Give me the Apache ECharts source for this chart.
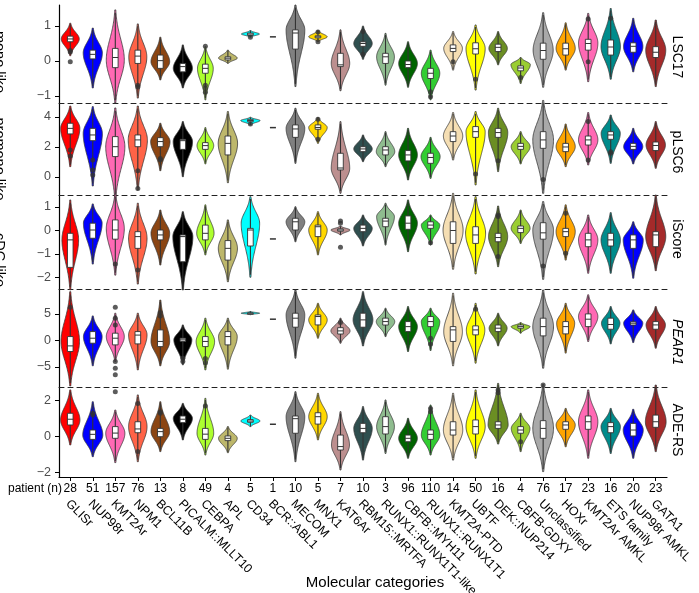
<!DOCTYPE html>
<html><head><meta charset="utf-8">
<script src="https://cdn.jsdelivr.net/npm/echarts@6/dist/echarts.min.js"></script>
<style>html,body{margin:0;padding:0;background:#fff}#c{width:699px;height:593px}</style>
</head><body><div id="c"></div>
<script>
const categories = ['GLISr','NUP98r','KMT2Ar','NPM1','BCL11B','PICALM::MLLT10','CEBPA','APL','CD34','BCR::ABL1','MECOM','MNX1','KAT6Ar','RBM15::MRTFA','RUNX1::RUNX1T1-like','CBFB::MYH11','RUNX1::RUNX1T1','KMT2A-PTD','UBTF','DEK::NUP214','CBFB-GDXY','Unclassified','HOXr','KMT2Ar AMKL','ETS family','NUP98r AMKL','GATA1'];
const patientCounts = [28,51,157,76,13,8,49,4,5,1,10,5,7,10,3,96,110,14,50,16,4,76,17,23,16,20,23];
const colors = ['#FF0000','#0000FF','#FF69B4','#FF6347','#8B4513','#000000','#ADFF2F','#BDB76B','#00FFFF','#333333','#808080','#FFD700','#BC8F8F','#2F4F4F','#8FBC8F','#006400','#32CD32','#F5DEB3','#FFFF00','#6B8E23','#9ACD32','#A9A9A9','#FFA500','#FF69B4','#008B8B','#0000FF','#A52A2A'];
const rowNames = ['LSC17','pLSC6','iScore','PEAR1','ADE-RS'];
const sideLabels = ['mono like','promono like','cDC like'];
const xTitle = 'Molecular categories';

// violin stats per category: [low, q1, median, q3, high, density peak, relative width]; single patient = one value
const lsc17 = [[0.15,0.55,0.63,0.71,1.08,0.63,0.8],[-0.77,0.06,0.19,0.31,0.94,0.23,0.85],[-1.2,-0.19,0.1,0.36,1.46,0.03,0.8],[-1.06,-0.07,0.14,0.31,1.06,0.12,0.8],[-0.54,-0.21,0.01,0.17,0.68,-0.02,0.83],[-0.77,-0.31,-0.16,-0.07,0.46,-0.21,0.85],[-1.11,-0.35,-0.21,-0.09,0.41,-0.21,0.7],[-0.07,0.03,0.08,0.12,0.31,0.08,0.83],[0.68,0.73,0.77,0.8,0.87,0.77,0.8],0.69,[-0.73,0.34,0.8,0.89,1.6,0.89,0.83],[0.55,0.66,0.69,0.72,0.87,0.69,0.82],[-0.85,-0.16,-0.11,0.22,0.89,-0.07,0.82],[0.05,0.42,0.5,0.55,1.0,0.5,0.82],[-0.69,-0.07,0.12,0.22,0.79,0.12,0.79],[-0.75,-0.19,-0.1,0.0,0.55,-0.07,0.83],[-1.11,-0.5,-0.35,-0.21,0.31,-0.35,0.82],[-0.26,0.27,0.36,0.46,0.84,0.36,0.83],[-0.83,0.2,0.35,0.52,1.03,0.36,0.85],[-0.11,0.27,0.39,0.48,0.84,0.36,0.82],[-0.64,-0.28,-0.2,-0.14,0.1,-0.1,0.86],[-0.75,0.05,0.3,0.51,1.38,0.31,0.89],[-0.26,0.17,0.35,0.51,1.09,0.36,0.85],[-0.59,0.31,0.5,0.62,1.36,0.51,0.86],[-0.52,0.17,0.4,0.6,1.5,0.41,0.86],[-0.31,0.25,0.42,0.52,1.22,0.41,0.86],[-0.73,0.1,0.25,0.41,1.17,0.31,0.89]];
const plsc6 = [[0.69,2.87,3.24,3.58,4.73,3.24,0.85],[-0.6,2.42,2.8,3.24,4.69,2.91,0.85],[-1.5,1.36,2.02,2.69,4.6,2.02,0.85],[-0.87,2.02,2.47,2.8,4.73,2.47,0.85],[0.42,2.02,2.36,2.62,3.58,2.36,0.86],[0.02,1.84,2.42,2.51,3.69,2.36,0.86],[0.87,1.84,2.09,2.29,3.29,2.09,0.74],[-0.38,1.47,2.24,2.73,4.36,2.24,0.86],[3.47,3.68,3.76,3.84,3.98,3.76,0.86],3.29,[0.91,2.64,3.2,3.47,4.58,3.24,0.83],[2.24,3.18,3.3,3.47,3.96,3.3,0.82],[-1.09,0.47,0.6,1.58,3.69,0.58,0.82],[1.02,1.69,1.87,2.02,2.8,1.87,0.82],[0.69,1.47,1.8,2.02,3.02,1.69,0.82],[-0.2,1.07,1.47,1.76,3.24,1.47,0.83],[-0.09,0.91,1.3,1.58,2.64,1.36,0.85],[1.13,2.36,2.73,3.02,4.29,2.73,0.86],[-0.53,2.64,3.02,3.36,4.36,3.02,0.85],[0.36,2.64,2.96,3.24,4.58,2.96,0.86],[0.87,1.84,2.04,2.24,3.02,2.02,0.84],[-1.09,1.91,2.47,3.02,5.1,2.47,0.92],[0.69,1.69,2.0,2.24,3.53,2.02,0.85],[0.8,2.13,2.47,2.73,4.29,2.47,0.86],[0.91,2.51,2.8,3.02,4.13,2.91,0.85],[0.87,1.84,2.04,2.24,3.24,2.02,0.85],[0.58,1.76,2.1,2.33,3.69,2.13,0.86]];
const iscore = [[-2.53,-1.57,-0.4,-0.12,1.3,-0.4,0.74],[-1.43,-0.33,0.02,0.31,1.13,0.31,0.83],[-1.9,-0.37,0.02,0.45,1.55,0.09,0.8],[-2.28,-0.76,-0.26,-0.05,1.16,-0.33,0.82],[-1.47,-0.4,-0.19,0.02,0.87,-0.12,0.83],[-2.53,-1.33,-0.26,-0.19,0.8,-0.26,0.89],[-1.04,-0.4,-0.12,0.23,1.09,-0.12,0.77],[-2.18,-1.26,-0.76,-0.43,0.45,-0.76,0.85],[-1.99,-0.66,0.02,0.09,1.44,0.31,0.82],-0.36,[-0.48,0.02,0.37,0.52,1.01,0.37,0.83],[-1.04,-0.26,0.16,0.23,0.8,0.02,0.82],[-0.19,-0.03,0.02,0.07,0.19,0.02,0.85],[-0.66,-0.05,0.09,0.23,0.66,0.09,0.82],[-0.62,0.16,0.4,0.52,1.16,0.59,0.79],[-0.9,0.05,0.31,0.62,1.3,0.31,0.83],[-0.62,0.09,0.23,0.37,0.66,0.23,0.82],[-1.65,-0.55,0.0,0.37,1.58,0.02,0.89],[-1.85,-0.55,-0.19,0.16,1.44,-0.12,0.89],[-1.54,-0.48,-0.3,-0.12,1.04,-0.26,0.85],[-0.55,-0.09,0.09,0.19,0.87,0.09,0.84],[-2.08,-0.37,-0.1,0.33,1.23,0.02,0.92],[-1.26,-0.26,-0.05,0.09,1.09,-0.05,0.85],[-1.82,-0.69,-0.4,-0.12,0.66,-0.4,0.86],[-1.82,-0.66,-0.4,-0.12,0.76,-0.4,0.86],[-2.03,-0.76,-0.4,-0.19,0.37,-0.4,0.89],[-1.71,-0.69,-0.19,-0.05,1.51,-0.26,0.89]];
const pear1 = [[-8.6,-2.1,-1.04,0.72,9.2,-0.2,0.82],[-4.8,-0.53,0.41,1.66,4.62,0.72,0.83],[-4.0,-0.85,0.41,1.36,5.13,0.72,0.8],[-5.57,-0.66,1.0,1.66,5.13,1.04,0.82],[-4.8,-1.17,-0.2,1.98,7.6,-0.2,0.83],[-4.62,-0.2,0.1,0.41,2.92,0.1,0.8],[-5.57,-1.17,-0.2,0.72,4.19,-0.2,0.82],[-5.43,-0.85,0.72,1.66,4.19,0.72,0.83],[4.85,5.05,5.13,5.2,5.45,5.13,0.82],4.0,[-3.36,2.49,4.19,5.13,9.5,4.8,0.83],[0.41,2.92,4.5,4.8,7.0,3.87,0.82],[-0.53,1.2,1.79,2.4,4.19,1.79,0.85],[-1.04,2.49,3.87,5.13,9.2,3.87,0.88],[0.72,2.9,3.55,4.2,6.07,3.55,0.82],[-2.1,1.66,2.6,3.55,6.38,2.6,0.83],[-1.9,2.6,3.55,4.5,6.07,3.55,0.82],[-4.8,-0.2,1.98,2.6,8.9,1.66,0.83],[-4.3,1.04,1.98,2.74,7.0,1.98,0.82],[-1.04,1.66,2.3,2.9,5.13,2.3,0.8],[1.36,2.3,2.6,2.9,3.36,2.6,0.84],[-5.25,0.85,2.6,4.19,9.5,2.6,0.92],[-2.4,1.23,2.6,3.55,7.0,3.24,0.8],[-0.2,2.6,4.0,5.0,8.6,4.5,0.86],[-0.66,2.11,3.0,4.19,6.38,3.24,0.82],[-0.41,2.9,3.24,3.5,5.75,3.24,0.85],[-1.47,2.11,2.92,3.55,6.38,2.92,0.86]];
const aders = [[-0.46,0.65,0.97,1.3,2.6,0.93,0.86],[-1.11,-0.15,0.13,0.37,1.94,0.09,0.89],[-1.44,-0.09,0.2,0.56,1.48,0.19,0.85],[-1.39,0.22,0.43,0.83,2.32,0.56,0.82],[-0.83,0.0,0.28,0.46,1.94,0.28,0.83],[-0.18,0.78,0.97,1.15,1.85,1.02,0.85],[-1.02,-0.15,0.14,0.46,2.13,0.19,0.74],[-0.89,-0.22,-0.09,0.04,0.56,-0.09,0.83],[0.56,0.8,0.87,0.95,1.2,0.87,0.85],0.69,[-1.39,0.19,1.0,1.15,2.5,1.11,0.83],[-0.18,0.7,1.11,1.33,2.41,1.11,0.82],[-1.85,-0.74,-0.55,0.09,1.39,-0.46,0.8],[-1.3,0.22,0.46,0.74,1.67,0.46,0.82],[-0.93,0.15,0.56,1.11,2.04,0.56,0.79],[-1.2,-0.28,-0.09,0.09,1.02,-0.09,0.83],[-1.02,-0.15,0.13,0.37,1.76,0.09,0.82],[-1.3,0.09,0.37,0.83,2.41,0.37,0.86],[-1.2,0.15,0.56,0.93,2.6,0.56,0.85],[-0.41,0.46,0.65,0.83,2.96,0.65,0.89],[-0.83,0.19,0.37,0.56,1.3,0.46,0.83],[-1.94,-0.09,0.46,0.89,2.9,0.46,0.92],[-0.56,0.41,0.65,0.83,1.57,0.65,0.85],[-1.2,0.41,0.83,1.15,2.6,0.83,0.86],[-0.93,0.22,0.56,0.78,1.57,0.56,0.86],[-1.2,0.04,0.37,0.74,1.52,0.37,0.89],[-0.83,0.52,0.83,1.2,2.87,0.83,0.92]];

// outliers: [category index, value]
const lsc17Out = [[0,0.3],[0,0.26],[0,-0.02],[3,-0.69],[3,-0.74],[6,0.42],[6,-0.69],[6,-0.78],[6,-0.89],[8,0.68],[11,0.83],[11,0.55],[13,0.84],[13,0.19],[16,-0.88],[16,-1.02],[17,-0.02],[18,-0.52],[20,-0.47],[23,1.2],[23,-0.02],[24,1.22]];
const plsc6Out = [[0,1.8],[0,1.4],[1,1.13],[1,0.47],[1,0.13],[3,0.42],[3,-0.76],[4,1.24],[4,1.13],[8,3.53],[11,3.84],[11,2.51],[18,0.2],[19,1.09],[21,-0.16],[23,3.69],[23,1.13],[24,1.69],[24,1.58]];
const iscoreOut = [[2,-1.43],[3,-1.68],[12,0.4],[12,0.31],[12,-0.71],[16,-0.52],[19,0.66],[19,0.59],[19,-1.11],[21,-1.51],[22,0.73],[22,-0.97]];
const pear1Out = [[0,6.26],[2,6.26],[2,4.19],[2,2.92],[2,-4.0],[2,-5.25],[2,-6.5],[4,5.25],[4,4.62],[5,-3.36],[5,-4.0],[6,-3.4],[6,-4.2],[12,3.36],[16,0.41],[16,-0.66],[18,5.89]];
const adersOut = [[1,1.3],[1,1.2],[2,2.5],[3,1.85],[3,-0.83],[4,1.39],[4,1.3],[6,1.7],[16,1.57],[16,1.39],[19,2.6],[19,2.44],[20,-0.28],[21,2.87]];

const lsc17Ticks = [-1,0,1];
const plsc6Ticks = [0,2,4];
const iscoreTicks = [-2,-1,0,1];
const pear1Ticks = [-5,0,5];
const adersTicks = [-2,0,2];

const rowStats = [lsc17, plsc6, iscore, pear1, aders];
const rowOutliers = [lsc17Out, plsc6Out, iscoreOut, pear1Out, adersOut];
const rowTicks = [lsc17Ticks, plsc6Ticks, iscoreTicks, pear1Ticks, adersTicks];
const rowRanges = [[-1.2,1.6],[-1.2,4.93],[-2.49,1.51],[-8.8,9.7],[-2.24,2.76]];

const FONT = '"Liberation Sans", Arial, sans-serif';
const gridTops = [5,103,195,289,387];
const gridBots = [103,195,289,387,477];
const GL = 59, GW = 608;

function fmt(v){ return v < 0 ? '\u2212' + Math.abs(v) : String(v); }

function renderViolin(params, api){
  const i = api.value(0);
  const lo = api.value(1), q1 = api.value(2), med = api.value(3), q3 = api.value(4), hi = api.value(5), pk = api.value(6), W = api.value(7);
  const c = api.coord([i, med]);
  const bw = api.size([1, 0])[0];
  const cx = c[0];
  if (!W) {
    return {type:'line', shape:{x1:cx-3, y1:c[1], x2:cx+3, y2:c[1]}, style:{stroke:'#333', lineWidth:1.5}};
  }
  const N = 70, right = [], left = [];
  const sUp = Math.max((hi-pk)/2.4, 1e-6), sDn = Math.max((pk-lo)/2.4, 1e-6);
  for (let k = 0; k <= N; k++) {
    const v = lo + (hi-lo)*k/N;
    const d = v - pk;
    const s = d > 0 ? sUp : sDn;
    const hw = W*bw/2*Math.exp(-0.5*(d/s)*(d/s));
    const y = api.coord([i, v])[1];
    right.push([cx+hw, y]);
    left.unshift([cx-hw, y]);
  }
  const pts = right.concat(left);
  const inset = (hi-lo)*0.03;
  const yWl = api.coord([i, lo+inset])[1], yWh = api.coord([i, hi-inset])[1];
  const yq1 = api.coord([i, q1])[1], yq3 = api.coord([i, q3])[1];
  const bx = bw*0.25;
  return {type:'group', children:[
    {type:'polygon', shape:{points:pts}, style:{fill:colors[i], stroke:'#3a3a3a', lineWidth:0.8}},
    {type:'line', shape:{x1:cx, y1:yWl, x2:cx, y2:yWh}, style:{stroke:'#333', lineWidth:1.1}},
    {type:'rect', shape:{x:cx-bx/2, y:yq3, width:bx, height:Math.max(yq1-yq3,1.5)}, style:{fill:'#fff', stroke:'#333', lineWidth:0.9}},
    {type:'line', shape:{x1:cx-bx/2, y1:c[1], x2:cx+bx/2, y2:c[1]}, style:{stroke:'#333', lineWidth:1}}
  ]};
}

const grids = [], xAxes = [], yAxes = [], series = [];
for (let k = 0; k < 5; k++) {
  grids.push({left:GL, width:GW, top:gridTops[k], height:gridBots[k]-gridTops[k], containLabel:false, outerBoundsMode:'none'});
  xAxes.push(k < 4 ? {type:'category', gridIndex:k, data:categories, show:false, axisLine:{onZero:false}} : {
    type:'category', gridIndex:k, data:categories, position:'bottom',
    axisLine:{show:true, onZero:false, lineStyle:{color:'#000', width:1.2}},
    axisTick:{show:true, alignWithLabel:true, interval:0, length:4, lineStyle:{color:'#000'}},
    axisLabel:{interval:0, margin:6, fontSize:12, color:'#000', fontFamily:FONT, formatter:(v, idx)=>String(patientCounts[idx])}
  });
  yAxes.push({type:'value', gridIndex:k, min:rowRanges[k][0], max:rowRanges[k][1],
    axisLine:{show:true, onZero:false, lineStyle:{color:'#000', width:1.2}},
    axisTick:{show:true, length:4, customValues:rowTicks[k], lineStyle:{color:'#000'}},
    axisLabel:{customValues:rowTicks[k], formatter:fmt, color:'#4d4d4d', fontSize:12.5, fontFamily:FONT, margin:8},
    splitLine:{show:false}});
}
// category names axis
xAxes.push({type:'category', gridIndex:4, data:categories, position:'bottom',
  axisLine:{show:false, onZero:false}, axisTick:{show:false},
  axisLabel:{interval:0, rotate:-45, margin:18, padding:[0,0,0,3], fontSize:12.5, color:'#000', fontFamily:FONT, align:'left', verticalAlign:'top'}});
// dashed separators
for (let k = 1; k < 5; k++) {
  xAxes.push({type:'category', gridIndex:k, data:categories, position:'top',
    axisLine:{show:true, onZero:false, lineStyle:{color:'#222', width:1, type:[5,4]}}, axisTick:{show:false}, axisLabel:{show:false}});
}
for (let k = 0; k < 5; k++) {
  series.push({type:'custom', xAxisIndex:k, yAxisIndex:k, clip:false, z:2,
    data: rowStats[k].map((s, i) => Array.isArray(s) ? [i].concat(s) : [i, s, s, s, s, s, s, 0]),
    renderItem: renderViolin});
  series.push({type:'scatter', xAxisIndex:k, yAxisIndex:k, clip:false, z:3, symbolSize:5,
    itemStyle:{color:'#333'}, data: rowOutliers[k]});
}

const graphics = [];
const rightY = [57,152,239,342,430];
rowNames.forEach((n, k) => graphics.push({type:'text', x:677, y:rightY[k], rotation:-Math.PI/2,
  style:{text:n, align:'center', verticalAlign:'middle', textAlign:'center', textVerticalAlign:'middle', font:(k===3?'italic ':'')+'14px '+FONT, fill:'#000'}}));
const leftY = [62,159,260];
sideLabels.forEach((n, k) => graphics.push({type:'text', x:-1, y:leftY[k], rotation:-Math.PI/2,
  style:{text:n, align:'center', verticalAlign:'middle', textAlign:'center', textVerticalAlign:'middle', font:'14.5px '+FONT, fill:'#000'}}));
graphics.push({type:'text', x:62, y:489, style:{text:'patient (n)', align:'right', verticalAlign:'middle', textAlign:'right', textVerticalAlign:'middle', font:'12px '+FONT, fill:'#000'}});
graphics.push({type:'text', x:375, y:583, style:{text:xTitle, align:'center', verticalAlign:'middle', textAlign:'center', textVerticalAlign:'middle', font:'15px '+FONT, fill:'#000'}});

const chart = echarts.init(document.getElementById('c'));
chart.setOption({animation:false, backgroundColor:'#fff', grid:grids, xAxis:xAxes, yAxis:yAxes, series:series, graphic:graphics});
</script></body></html>
